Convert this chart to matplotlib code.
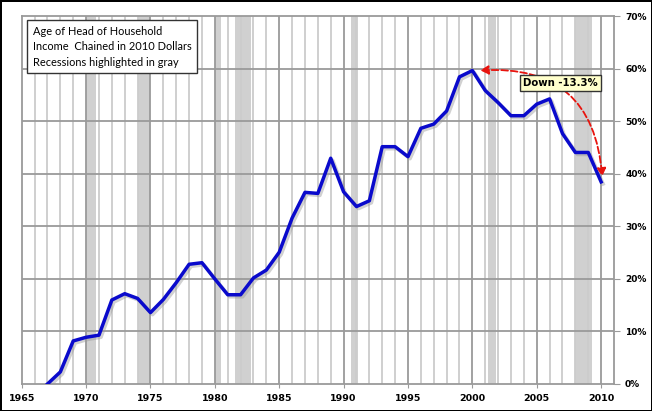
import numpy as np
import matplotlib
matplotlib.use("Agg")
from matplotlib import pyplot as plt
from matplotlib.patches import FancyArrowPatch
import matplotlib.patheffects as pe

# data
years = list(range(1967, 2011))
share = [0.0, 2.3, 8.2, 8.9, 9.3, 16.0, 17.2, 16.3, 13.6, 16.1,
         19.3, 22.8, 23.1, 20.0, 17.0, 17.0, 20.2, 21.7, 25.1, 31.6,
         36.5, 36.3, 43.0, 36.6, 33.8, 34.9, 45.2, 45.2, 43.3, 48.7,
         49.5, 52.0, 58.5, 59.7, 55.9, 53.6, 51.1, 51.1, 53.3, 54.3,
         47.7, 44.1, 44.1, 38.5]
recessions = [(1970.0, 1970.8), (1974.0, 1975.0), (1980.05, 1980.5),
              (1981.6, 1982.8), (1990.6, 1991.1), (2001.25, 2001.8),
              (2008.0, 2009.3)]
x_ticks = list(range(1965, 2011, 5))
y_ticks = [0, 10, 20, 30, 40, 50, 60, 70]
note_lines = ["Age of Head of Household",
              "Income  Chained in 2010 Dollars",
              "Recessions highlighted in gray"]
callout = "Down -13.3%"

fig = plt.figure(figsize=(6.52, 4.11), dpi=100)
fig.patch.set_edgecolor("black")
fig.patch.set_linewidth(2)
ax = fig.add_axes([0.0333, 0.0657, 0.9084, 0.8942])

# recession shading
for a, b in recessions:
    ax.axvspan(a, b, color="#d0d0d0", zorder=0, lw=0)

# grid
for yr in range(1966, 2011):
    c = "#9a9a9a" if yr % 5 == 0 else "#cccccc"
    ax.axvline(yr, color=c, lw=1.3, zorder=1)
for v in y_ticks[1:-1]:
    ax.axhline(v / 100, color="#9a9a9a", lw=1.3, zorder=1)

ax.plot(years, np.array(share) / 100, color="#0a0acc", lw=2.5, zorder=3,
        solid_joinstyle="round",
        path_effects=[pe.SimpleLineShadow(offset=(1.5, -1.5), shadow_color="#999999", alpha=0.45),
                      pe.Normal()])

ax.set_xlim(1965, 2011)
ax.set_ylim(0, 0.70)
ax.set_xticks(x_ticks)
ax.set_xticklabels([str(t) for t in x_ticks], fontsize=6.8, fontweight="bold")
ax.set_yticks([v / 100 for v in y_ticks])
ax.set_yticklabels([f"{v}%" for v in y_ticks], fontsize=6.5, fontweight="bold")
ax.yaxis.tick_right()
ax.tick_params(axis="x", length=3, color="#9a9a9a", pad=4)
ax.tick_params(axis="y", length=4, color="#9a9a9a", pad=4)
for s in ax.spines.values():
    s.set_color("#9a9a9a")
    s.set_linewidth(1.3)

# note box top left
ax.text(0.019, 0.975, "\n".join(note_lines), transform=ax.transAxes,
        family="Lato", fontsize=7.9, va="top", ha="left", linespacing=1.5,
        zorder=6,
        bbox=dict(boxstyle="square,pad=0.5", fc="white", ec="#333333", lw=1))

# curved dashed arrow and callout
arrow = FancyArrowPatch((2000.4, 0.597), (2010.1, 0.39),
                        connectionstyle="arc3,rad=-0.5",
                        arrowstyle="<|-|>,head_length=4,head_width=2.2",
                        color="#e8140e", lw=1.3, ls="--", zorder=5,
                        mutation_scale=1.2)
ax.add_patch(arrow)
ax.text(2006.85, 0.574, callout, fontsize=7.3, fontweight="bold",
        ha="center", va="center", zorder=7,
        bbox=dict(boxstyle="square,pad=0.3", fc="#ffffcc", ec="#333333", lw=1))

plt.savefig("out.png", dpi=100)
